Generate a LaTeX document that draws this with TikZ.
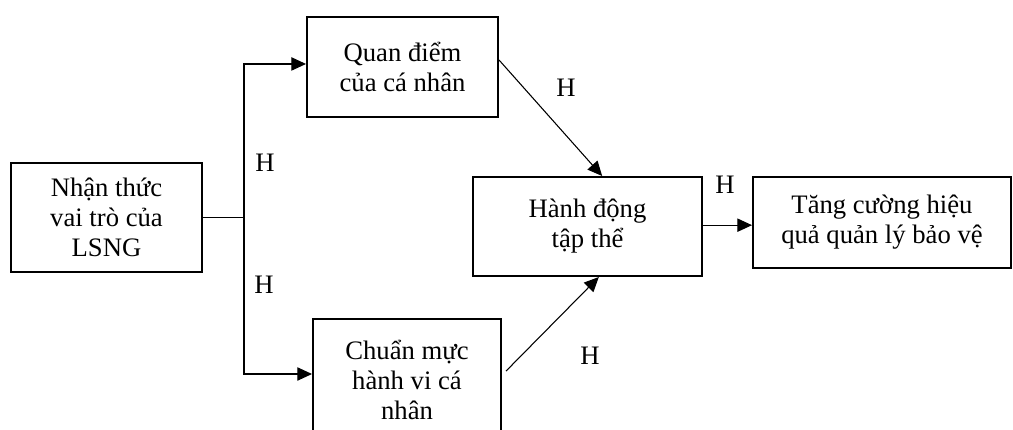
\documentclass[tikz,border=0pt]{standalone}
\usepackage{fontspec}
\setmainfont{Liberation Serif}
\usepackage{tikz}
\usetikzlibrary{arrows.meta}

\tikzset{
	khung/.style = {draw, rectangle, line width=1.5pt, align=center, inner sep=2pt,
		font=\fontsize{20}{22.5}\selectfont},
	muiten/.style = {line width=0.8pt, -{Triangle[length=11pt,width=10pt]}},
	nhan/.style = {font=\fontsize{20}{22.5}\selectfont}
}

\begin{document}
\begin{tikzpicture}[x=0.75pt,y=-0.75pt]
		\useasboundingbox (0,0) rectangle (1013,429);

		\node[khung,minimum width = 143.25pt,minimum height = 81.75pt] at (106.5,217.5) (nhanthuc)
		{Nhận thức\\vai trò của\\LSNG};

		\node[khung,minimum width = 143.25pt,minimum height = 75pt] at (402.5,66.5) (quandiem)
		{Quan điểm\\của cá nhân};

		\node[khung,minimum width = 141pt,minimum height = 91.5pt] at (407,380) (chuanmuc)
		{Chuẩn mực\\hành vi cá\\nhân};

		\node[khung,minimum width = 171.75pt,minimum height = 74.25pt] at (587.5,226.5) (hanhdong)
		{Hành động\\tập thể};

		\node[khung,minimum width = 193.5pt,minimum height = 68.25pt] at (882,222.5) (tangcuong)
		{Tăng cường hiệu\\quả quản lý bảo vệ};

		\coordinate (re) at (244,217.5);

		\node[nhan] at (265,163) (h1) {H};
		\node[nhan] at (264,285) (h2) {H};
		\node[nhan] at (566,88) (h3) {H};
		\node[nhan] at (590,356) (h4) {H};
		\node[nhan] at (725,185) (h5) {H};

		\draw[line width=0.8pt] (nhanthuc) -- (re);
		\draw[muiten] (re) |- ([yshift=1.9pt]quandiem.west);
		\draw[muiten] (re) |- ([yshift=4.5pt]chuanmuc.west);
		\draw[muiten] ([yshift=4.9pt]quandiem.east) -- ([xshift=11pt]hanhdong.north);
		\draw[muiten] ([xshift=3pt,yshift=6.7pt]chuanmuc.east) -- ([xshift=8.5pt]hanhdong.south);
		\draw[muiten] ([yshift=1pt]hanhdong.east) -- ([yshift=1pt]hanhdong.east -| tangcuong.west);
	\end{tikzpicture}
\end{document}
